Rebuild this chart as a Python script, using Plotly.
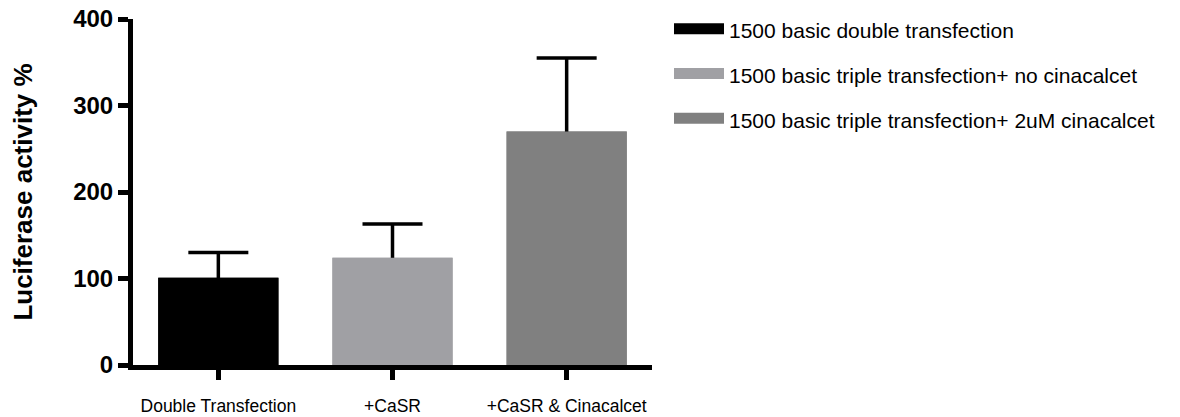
import plotly.graph_objects as go

# ---- data ----
categories = ["Double Transfection", "+CaSR", "+CaSR & Cinacalcet"]
series_names = [
    "1500 basic double transfection",
    "1500 basic triple transfection+ no cinacalcet",
    "1500 basic triple transfection+ 2uM cinacalcet",
]
means = [101, 124, 270]
errors = [29, 39, 85]
bar_colors = ["#000000", "#A0A0A4", "#808080"]
y_ticks = [0, 100, 200, 300, 400]
y_title = "Luciferase activity %"

FONT = "Liberation Sans, Arial, sans-serif"

fig = go.Figure()

# bars carrying the error bars (lower half of error bar hidden by the covering bars)
fig.add_trace(go.Bar(
    x=categories, y=means, width=0.69,
    marker=dict(color=bar_colors, line=dict(width=0)),
    error_y=dict(type="data", array=errors, symmetric=True,
                 color="#000000", thickness=3.5, width=30),
    showlegend=False, hoverinfo="skip",
))
# covering bars
fig.add_trace(go.Bar(
    x=categories, y=means, width=0.69,
    marker=dict(color=bar_colors, line=dict(width=0)),
    showlegend=False,
))
# legend entries
for name, col in zip(series_names, bar_colors):
    fig.add_trace(go.Scatter(
        x=[None], y=[None], mode="lines", name=name,
        line=dict(color=col, width=14), fill="toself", fillcolor=col,
        legendgroup=name,
    ))

fig.update_layout(
    width=1180, height=417,
    margin=dict(l=133, r=528, t=19, b=52, autoexpand=False),
    paper_bgcolor="white", plot_bgcolor="white",
    barmode="overlay",
    font=dict(family=FONT, color="#000000"),
    legend=dict(
        xref="container", yref="container",
        x=669 / 1180, y=1 - 10 / 417, xanchor="left", yanchor="top",
        font=dict(family=FONT, size=21, color="#000000"),
        itemwidth=50, tracegroupgap=14.5, bgcolor="rgba(0,0,0,0)",
    ),
)

fig.update_xaxes(
    type="category", range=[-0.49, 2.49],
    showline=True, linewidth=5, linecolor="#000000",
    ticks="outside", ticklen=10, tickwidth=5, tickcolor="#000000",
    tickfont=dict(family=FONT, size=17.5, color="#000000"),
    ticklabelstandoff=11,
    showgrid=False, zeroline=False,
)
fig.update_yaxes(
    range=[0, 400], tickvals=y_ticks,
    showline=True, linewidth=5, linecolor="#000000",
    ticks="outside", ticklen=10, tickwidth=5, tickcolor="#000000",
    tickfont=dict(family=FONT, size=24, color="#000000", weight="bold"),
    showgrid=False, zeroline=False,
    title=dict(text=y_title, standoff=35,
               font=dict(family=FONT, size=26, color="#000000", weight="bold")),
)

fig.write_html("out.html")
